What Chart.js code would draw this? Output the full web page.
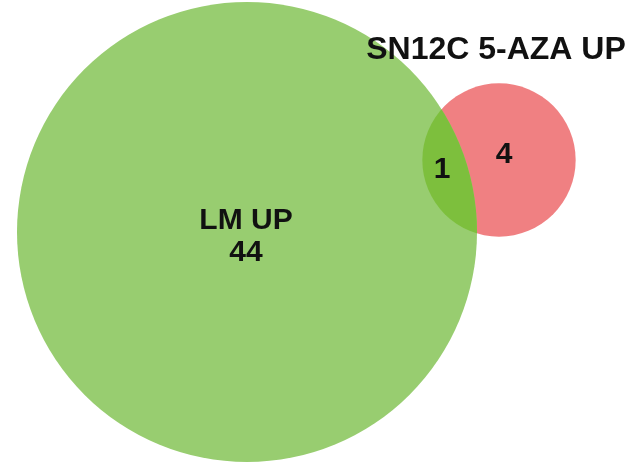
<!DOCTYPE html>
<html>
<head>
<meta charset="utf-8">
<script src="https://cdn.jsdelivr.net/npm/chart.js@4/dist/chart.umd.min.js"></script>
<style>
  html, body { margin: 0; padding: 0; background: #ffffff; }
  #wrap { width: 644px; height: 464px; }
</style>
</head>
<body>
<div id="wrap"><canvas id="c" width="644" height="464"></canvas></div>
<script>
// ---- data ----
const setNames = ['LM UP', 'SN12C 5-AZA UP'];
const onlyCounts = [44, 4];          // elements unique to each set
const overlapCount = 1;              // shared elements
const setTotals = [onlyCounts[0] + overlapCount, onlyCounts[1] + overlapCount];
// circle centres in data units (venn layout)
const centerX = [247, 499];
const centerY = [232, 304];
// label anchors in data units
const mainLabelX = [246, 496];
const mainLabelY = [227, 414];
const overlapLabelX = 442;
const overlapLabelY = 294;
const onlyLabelX = 504;
const onlyLabelY = 309;

const areaScale = 230 / Math.sqrt(45); // data units per sqrt(count)
const radiusUnits = setTotals.map(t => areaScale * Math.sqrt(t));

const fillColors = ['#98cd70', '#f08082'];
const overlapColor = '#7dbf3d';

function pxRadius(chart, units) {
  const s = chart.scales.x;
  const v = Math.abs(s.getPixelForValue(units) - s.getPixelForValue(0));
  return isFinite(v) ? v : 0;
}

const vennPlugin = {
  id: 'venn',
  afterDatasetsDraw(chart) {
    const ctx = chart.ctx;
    const sx = chart.scales.x, sy = chart.scales.y;
    const c0 = { x: sx.getPixelForValue(centerX[0]), y: sy.getPixelForValue(centerY[0]), r: pxRadius(chart, radiusUnits[0]) };
    const c1 = { x: sx.getPixelForValue(centerX[1]), y: sy.getPixelForValue(centerY[1]), r: pxRadius(chart, radiusUnits[1]) };
    // overlap region
    ctx.save();
    ctx.beginPath();
    ctx.arc(c1.x, c1.y, c1.r, 0, Math.PI * 2);
    ctx.clip();
    ctx.beginPath();
    ctx.arc(c0.x, c0.y, c0.r, 0, Math.PI * 2);
    ctx.fillStyle = overlapColor;
    ctx.fill();
    ctx.restore();

    // labels
    ctx.save();
    ctx.fillStyle = '#111111';
    ctx.textAlign = 'center';
    ctx.textBaseline = 'middle';
    ctx.font = 'bold 30px "Liberation Sans", Arial, sans-serif';
    const bx = sx.getPixelForValue(mainLabelX[0]);
    const by = sy.getPixelForValue(mainLabelY[0]);
    ctx.fillText(setNames[0], bx, by - 16);
    ctx.fillText(String(onlyCounts[0]), bx, by + 16);
    ctx.fillText(String(overlapCount), sx.getPixelForValue(overlapLabelX), sy.getPixelForValue(overlapLabelY));
    ctx.fillText(String(onlyCounts[1]), sx.getPixelForValue(onlyLabelX), sy.getPixelForValue(onlyLabelY));
    ctx.font = 'bold 32px "Liberation Sans", Arial, sans-serif';
    ctx.fillText(setNames[1], sx.getPixelForValue(mainLabelX[1]), sy.getPixelForValue(mainLabelY[1]));
    ctx.restore();
  }
};

new Chart(document.getElementById('c'), {
  type: 'scatter',
  data: {
    datasets: [
      {
        label: setNames[1],
        data: [{ x: centerX[1], y: centerY[1] }],
        backgroundColor: fillColors[1],
        borderWidth: 0,
        pointStyle: 'circle',
        pointRadius: (ctx) => pxRadius(ctx.chart, radiusUnits[1]),
        order: 2
      },
      {
        label: setNames[0],
        data: [{ x: centerX[0], y: centerY[0] }],
        backgroundColor: fillColors[0],
        borderWidth: 0,
        pointStyle: 'circle',
        pointRadius: (ctx) => pxRadius(ctx.chart, radiusUnits[0]),
        order: 1
      }
    ]
  },
  options: {
    responsive: false,
    animation: false,
    events: [],
    layout: { padding: 0 },
    plugins: { legend: { display: false }, tooltip: { enabled: false } },
    scales: {
      x: { type: 'linear', min: 0, max: 644, display: false },
      y: { type: 'linear', min: 0, max: 464, display: false }
    }
  },
  plugins: [vennPlugin]
});
</script>
</body>
</html>
